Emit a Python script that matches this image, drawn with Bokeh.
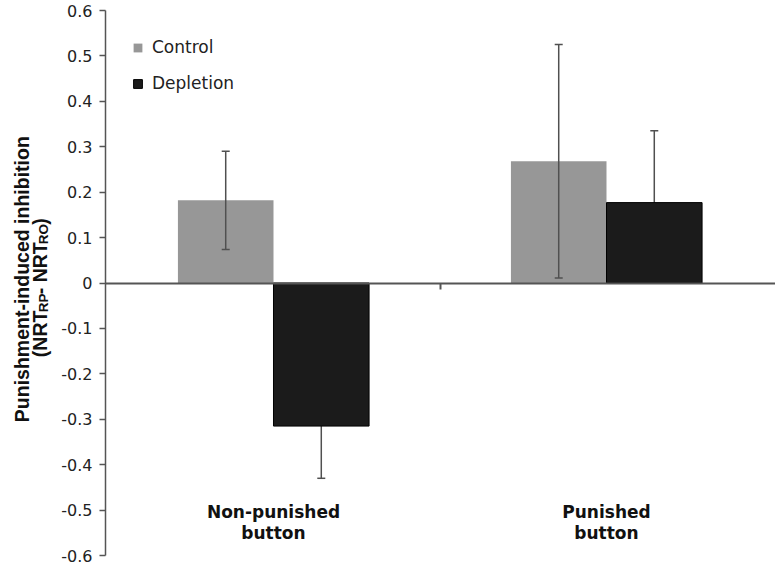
import math
from bokeh.plotting import figure
from bokeh.layouts import row
from bokeh.models import Range1d, FixedTicker, Legend, LegendItem
from bokeh.core.properties import value
from bokeh.embed import file_html
from bokeh.resources import INLINE

# ---- data ----
categories = ["Non-punished\nbutton", "Punished\nbutton"]
series = ["Control", "Depletion"]
control = [0.182, 0.268]
control_err = [0.108, 0.257]
depletion = [-0.315, 0.177]
depletion_err = [0.115, 0.158]
y_ticks = [-0.6, -0.5, -0.4, -0.3, -0.2, -0.1, 0, 0.1, 0.2, 0.3, 0.4, 0.5, 0.6]
y_tick_labels = ["-0.6", "-0.5", "-0.4", "-0.3", "-0.2", "-0.1", "0",
                 "0.1", "0.2", "0.3", "0.4", "0.5", "0.6"]
y_title_line1 = "Punishment-induced inhibition"
y_title_line2 = [("(NRT", False), ("RP", True), ("- NRT", False), ("RO", True), (")", False)]

# ---- styles / layout ----
CONTROL_COLOR = "#979797"
DEPLETION_COLOR = "#1b1b1b"
AXIS_COLOR = "#555555"
ERR_COLOR = "#505050"
TITLE_W = 58
TOTAL_W, TOTAL_H = 775, 566

pos = [i + 1 for i in range(len(categories))]
bw = 0.287
half = bw / 2
ctrl_x = [x - half for x in pos]
depl_x = [x + half for x in pos]

p = figure(width=TOTAL_W - TITLE_W, height=TOTAL_H, output_backend="svg", toolbar_location=None,
           x_range=Range1d(0.4955, 2.5075), y_range=Range1d(-0.6, 0.6),
           min_border_left=105 - TITLE_W, min_border_top=10, min_border_bottom=11,
           min_border_right=0)
p.outline_line_color = None
p.xgrid.visible = False
p.ygrid.visible = False

# bars and error bars (draw order: control, its errors, depletion errors, depletion bars)
r_ctrl = p.vbar(x=ctrl_x, top=control, bottom=0, width=bw,
                fill_color=CONTROL_COLOR, line_color=None)
c_lo = [v - e for v, e in zip(control, control_err)]
c_hi = [v + e for v, e in zip(control, control_err)]
d_lo = [v - e for v, e in zip(depletion, depletion_err)]
d_hi = [v + e for v, e in zip(depletion, depletion_err)]
p.segment(x0=ctrl_x, y0=c_lo, x1=ctrl_x, y1=c_hi, line_color=ERR_COLOR, line_width=1.5)
p.scatter(x=ctrl_x + ctrl_x, y=c_lo + c_hi, marker="dash", size=8,
          line_color=ERR_COLOR, line_width=1.5)
p.segment(x0=depl_x, y0=d_lo, x1=depl_x, y1=d_hi, line_color=ERR_COLOR, line_width=1.5)
p.scatter(x=depl_x + depl_x, y=d_lo + d_hi, marker="dash", size=8,
          line_color=ERR_COLOR, line_width=1.5)
r_depl = p.vbar(x=depl_x, top=depletion, bottom=0, width=bw,
                fill_color=DEPLETION_COLOR, line_color="#000000", line_width=1)

# y axis
ya = p.yaxis[0]
ya.ticker = FixedTicker(ticks=y_ticks, minor_ticks=[])
ya.major_label_overrides = dict(zip(y_ticks, y_tick_labels))
ya.axis_line_color = AXIS_COLOR
ya.axis_line_width = 1.5
ya.major_tick_line_color = AXIS_COLOR
ya.major_tick_line_width = 1.5
ya.major_tick_out = 6
ya.major_tick_in = 0
ya.minor_tick_line_color = None
ya.major_label_standoff = 7
ya.major_label_text_font = "DejaVu Sans"
ya.major_label_text_font_size = "16px"
ya.major_label_text_color = "#222222"

# x axis at zero
xa = p.xaxis[0]
xa.fixed_location = 0
mid = (pos[0] + pos[1]) / 2
xa.ticker = FixedTicker(ticks=[mid], minor_ticks=[])
xa.major_label_overrides = {mid: ""}
xa.major_label_text_font_size = "0px"
xa.major_label_standoff = 0
xa.axis_line_color = AXIS_COLOR
xa.axis_line_width = 2
xa.major_tick_line_color = AXIS_COLOR
xa.major_tick_line_width = 2
xa.major_tick_out = 6
xa.major_tick_in = 0
xa.minor_tick_line_color = None

# category labels
p.text(x=pos, y=[-0.528] * len(pos), text=categories,
       text_font=value("DejaVu Sans"), text_font_style="bold", text_font_size="17px",
       text_align="center", text_baseline="middle", text_line_height=1.05,
       text_color="#111111")

# legend
legend = Legend(items=[LegendItem(label=series[0], renderers=[r_ctrl]),
                       LegendItem(label=series[1], renderers=[r_depl])],
                location="top_left", border_line_color=None, background_fill_alpha=0,
                margin=27, padding=0, glyph_width=11, glyph_height=11,
                label_height=18, spacing=16, label_standoff=9,
                label_text_font="DejaVu Sans", label_text_font_size="17px",
                label_text_color="#222222")
p.add_layout(legend)

# ---- y axis title panel (rotated, with subscripts) ----
t = figure(width=TITLE_W, height=TOTAL_H, output_backend="svg", toolbar_location=None,
           x_range=Range1d(0, TITLE_W), y_range=Range1d(0, TOTAL_H),
           min_border=0, x_axis_location=None, y_axis_location=None)
t.outline_line_color = None
t.grid.visible = False

def ypix(page_y):
    return TOTAL_H - page_y

TITLE_CENTER = 279
MAIN_SIZE = 19.5
SUB_SIZE = 13.5

t.text(x=[21], y=[ypix(TITLE_CENTER)], text=[y_title_line1], angle=math.pi / 2,
       text_align="center", text_baseline="alphabetic",
       text_font=value("Liberation Sans"), text_font_style="bold",
       text_font_size=f"{MAIN_SIZE}px", text_color="#111111")

char_w = {"(": 0.333, ")": 0.333, "N": 0.722, "R": 0.722, "T": 0.611, "-": 0.333,
          " ": 0.278, "P": 0.667, "O": 0.778}
pieces = []
total = 0.0
for txt, sub in y_title_line2:
    size = SUB_SIZE if sub else MAIN_SIZE
    w = sum(char_w.get(c, 0.6) for c in txt) * size
    pieces.append((txt, sub, size, w))
    total += w
start_page = 360
cum = 0.0
for txt, sub, size, w in pieces:
    t.text(x=[43 if sub else 39], y=[ypix(start_page - cum)], text=[txt], angle=math.pi / 2,
           text_align="left", text_baseline="alphabetic",
           text_font=value("Liberation Sans"), text_font_style="bold",
           text_font_size=f"{size}px", text_color="#111111")
    cum += w

layout = row(t, p, spacing=0)
open("out.html", "w").write(file_html(layout, INLINE))
